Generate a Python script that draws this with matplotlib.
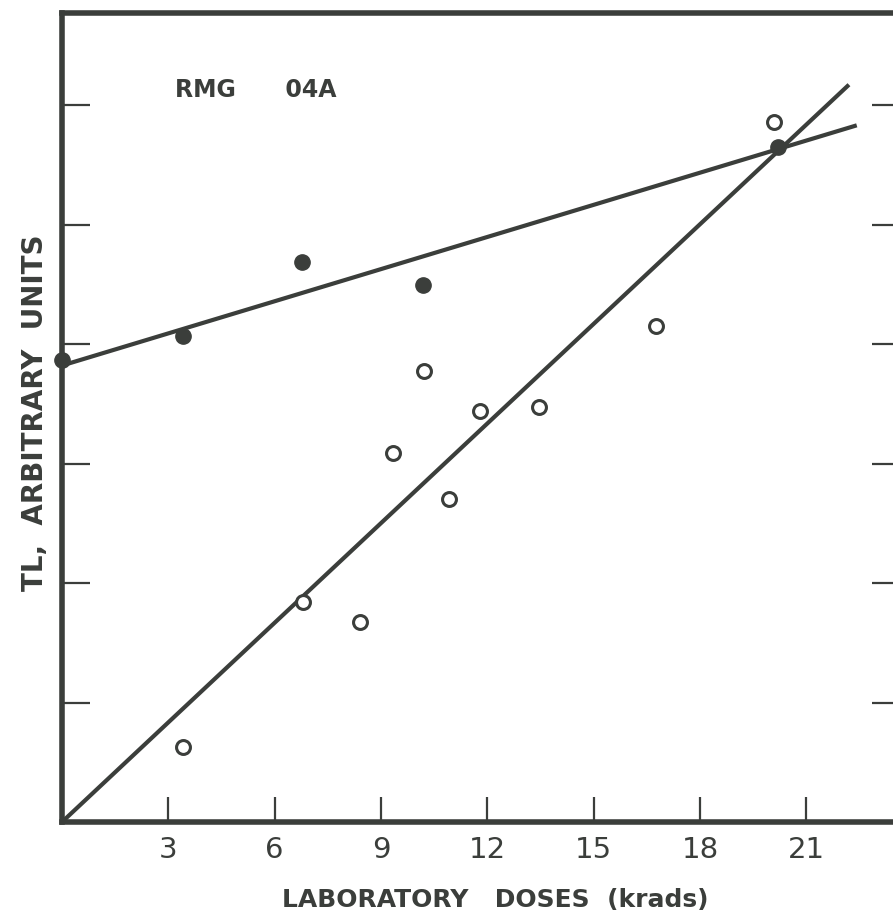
import matplotlib
matplotlib.use("Agg")
import matplotlib.pyplot as plt

# data (dose in krads, TL in tick units)
filled_dose = [0.0, 3.41, 6.76, 10.17, 20.2]
filled_tl = [3.87, 4.07, 4.69, 4.49, 5.65]

open_dose = [20.08, 16.76, 10.2, 11.8, 13.46, 9.35, 10.93, 6.79, 8.42, 3.41]
open_tl = [5.86, 4.15, 3.77, 3.44, 3.47, 3.09, 2.70, 1.84, 1.67, 0.63]

# fitted lines, end points
fit_filled_x = [0.0, 22.42]
fit_filled_y = [3.82, 5.83]
fit_open_x = [0.0, 22.2]
fit_open_y = [0.0, 6.17]

x_ticks = [3, 6, 9, 12, 15, 18, 21]
x_labels = ["3", "6", "9", "12", "15", "18", "21"]
y_ticks = [1, 2, 3, 4, 5, 6]

ink = "#3b3e3b"
plt.rcParams["font.family"] = ["DejaVu Sans"]

W, H = 893, 919
fig = plt.figure(figsize=(W / 100, H / 100), dpi=100)
ax = fig.add_axes([62 / W, (H - 822) / H, (900 - 62) / W, (822 - 13) / H])

ax.plot(fit_filled_x, fit_filled_y, color=ink, lw=3.0, solid_capstyle="butt")
ax.plot(fit_open_x, fit_open_y, color=ink, lw=3.0, solid_capstyle="butt")
ax.plot(filled_dose, filled_tl, "o", color=ink, ms=11, clip_on=False, zorder=3)
ax.plot(open_dose, open_tl, "o", mfc="white", mec=ink, mew=2.2, ms=10, zorder=3)

ax.set_xlim(0, 23.64)
ax.set_ylim(0, 6.77)

for s in ax.spines.values():
    s.set_linewidth(4)
    s.set_color(ink)

ax.set_xticks(x_ticks)
ax.set_xticklabels(x_labels, fontsize=21, color=ink)
ax.set_yticks(y_ticks)
ax.set_yticklabels([])
ax.tick_params(axis="x", direction="in", length=18, width=1.6, color=ink, pad=10)
ax.tick_params(axis="y", direction="in", length=20, width=1.6, color=ink,
               left=True, right=True)

fig.text(495 / W, 1 - 900 / H, "LABORATORY   DOSES  (krads)",
         ha="center", va="center", fontsize=18, fontweight="bold", color=ink)
fig.text(35 / W, 1 - 413 / H, "TL,  ARBITRARY  UNITS",
         ha="center", va="center", rotation=90, fontsize=20, fontweight="bold", color=ink)
fig.text(175 / W, 1 - 90 / H, "RMG      04A", ha="left", va="center",
         fontsize=17, fontweight="bold", color=ink)

fig.savefig("out.png", dpi=100)
